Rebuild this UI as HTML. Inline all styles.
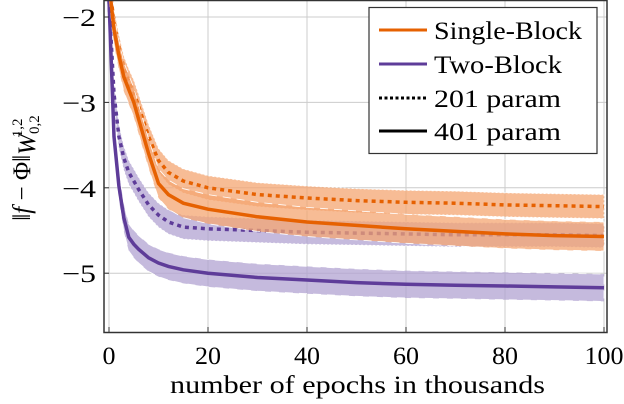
<!DOCTYPE html>
<html><head><meta charset="utf-8"><style>
body{margin:0;background:#fff}
svg{display:block;font-family:"Liberation Serif",serif}
</style></head><body>
<svg id="c" width="624" height="404" viewBox="0 0 624 404"></svg>
<script>
const epochs=[0,1,2,3,4,5,6,8,10,12,15,20,30,40,50,60,70,80,90,100];
const single201=[-1.6,-2.05,-2.35,-2.6,-2.75,-2.88,-3.05,-3.4,-3.68,-3.82,-3.92,-4.0,-4.08,-4.12,-4.15,-4.17,-4.18,-4.2,-4.21,-4.22];
const single401=[-1.6,-2.15,-2.45,-2.7,-2.85,-3.0,-3.2,-3.6,-3.95,-4.08,-4.18,-4.25,-4.34,-4.4,-4.44,-4.48,-4.51,-4.54,-4.56,-4.57];
const two201=[-1.8,-2.9,-3.4,-3.65,-3.82,-3.92,-4.02,-4.2,-4.32,-4.4,-4.46,-4.48,-4.5,-4.52,-4.53,-4.54,-4.55,-4.55,-4.55,-4.56];
const two401=[-1.8,-3.4,-3.98,-4.35,-4.58,-4.66,-4.72,-4.82,-4.88,-4.92,-4.96,-5.0,-5.05,-5.08,-5.11,-5.13,-5.14,-5.15,-5.16,-5.17];
const single201Spread=0.14, single401Spread=0.17, two201Spread=0.14, two401Spread=0.16;
const xTicks=[0,20,40,60,80,100];
const yTicks=[-2,-3,-4,-5];
const NS="http://www.w3.org/2000/svg";
const svg=document.getElementById('c');
const L=104,R=607,T=0,B=332;
const xs=v=>109+v*4.95;
const ys=v=>17+(-2-v)*85.4;
function el(tag,a,parent){const e=document.createElementNS(NS,tag);for(const k in a)e.setAttribute(k,a[k]);(parent||svg).appendChild(e);return e;}
const defs=el('defs',{});const cp=el('clipPath',{id:'cl'},defs);el('rect',{x:L,y:T,width:R-L,height:B-T},cp);
xTicks.forEach(t=>{const g=el('line',{x1:xs(t),x2:xs(t),y1:T,y2:B,stroke:'#ccc','stroke-width':1});


const s=String(t);
const tx=el('text',{x:xs(t),y:364,'font-size':25,'text-anchor':'middle',textLength:s.length*13,lengthAdjust:'spacingAndGlyphs'});tx.textContent=s;

});
yTicks.forEach(t=>{const g=el('line',{x1:L,x2:R,y1:ys(t),y2:ys(t),stroke:'#ccc','stroke-width':1});


const tx=el('text',{x:96,y:ys(t)+9,'font-size':25,'text-anchor':'end',textLength:34,lengthAdjust:'spacingAndGlyphs'});tx.textContent='\u2212'+(-t);

});
const plot=el('g',{'clip-path':'url(#cl)'});
function path(arr,off){return arr.map((v,i)=>(i?'L':'M')+xs(epochs[i]).toFixed(1)+','+ys(v+off).toFixed(1)).join('');}
function band(arr,s){const up=arr.map((v,i)=>xs(epochs[i]).toFixed(1)+','+ys(v+s).toFixed(1));const dn=arr.map((v,i)=>xs(epochs[i]).toFixed(1)+','+ys(v-s).toFixed(1)).reverse();return 'M'+up.join('L')+'L'+dn.join('L')+'Z';}
const series=[
 [two201,two201Spread,'#5e3c99','#b2a3d1',true,'two-block-201'],
 [two401,two401Spread,'#5e3c99','#b2a3d1',false,'two-block-401'],
 [single201,single201Spread,'#e66101','#f4a672',true,'single-block-201'],
 [single401,single401Spread,'#e66101','#f4a672',false,'single-block-401']];
series.forEach(([d,s,c,f,dash,n])=>{
 const b=el('path',{d:band(d,s),fill:f,'fill-opacity':0.75,stroke:'#fff','stroke-width':0.8,'stroke-dasharray':dash?'2 2':'8 6'},plot);
 
 
 const p=el('path',{d:path(d,0),fill:'none',stroke:c,'stroke-width':3.5,'stroke-dasharray':dash?'4 4':'none'},plot);
 
 
});
const fr=el('rect',{x:L,y:T+0.5,width:R-L,height:B-T,fill:'none',stroke:'#333','stroke-width':1.5});


xTicks.forEach(t=>{el('line',{x1:xs(t),x2:xs(t),y1:B,y2:B-5,stroke:'#333'});});
yTicks.forEach(t=>{el('line',{x1:L,x2:L+5,y1:ys(t),y2:ys(t),stroke:'#333'});});
</script>
<svg style="position:absolute;left:0;top:0" width="624" height="404">
<text x="170" y="393" font-size="25" textLength="375" lengthAdjust="spacingAndGlyphs" font-family="Liberation Serif,serif">number of epochs in thousands</text>
<text transform="translate(30,168) rotate(-90)" font-size="25" text-anchor="middle" font-family="Liberation Serif,serif">‖<tspan font-style="italic">f</tspan> − Φ‖<tspan font-style="italic" dy="5">W</tspan><tspan font-size="15" dy="4">0,2</tspan><tspan font-size="15" dx="-22" dy="-17">1,2</tspan></text>
<g font-family="Liberation Serif,serif" font-size="25">
<rect x="369" y="7.5" width="228" height="146" fill="#fff" stroke="#333" stroke-width="1.2"/>
<line x1="379" x2="427" y1="30" y2="30" stroke="#e66101" stroke-width="3"/><text x="434" y="39" textLength="148" lengthAdjust="spacingAndGlyphs">Single-Block</text>
<line x1="379" x2="427" y1="64" y2="64" stroke="#5e3c99" stroke-width="3"/><text x="434" y="73" textLength="128" lengthAdjust="spacingAndGlyphs">Two-Block</text>
<line x1="379" x2="427" y1="98" y2="98" stroke="#000" stroke-width="3" stroke-dasharray="3 2.5"/><text x="434" y="107" textLength="127" lengthAdjust="spacingAndGlyphs">201 param</text>
<line x1="379" x2="427" y1="131" y2="131" stroke="#000" stroke-width="3"/><text x="434" y="140" textLength="127" lengthAdjust="spacingAndGlyphs">401 param</text>
</g>
</svg>
</body></html>
